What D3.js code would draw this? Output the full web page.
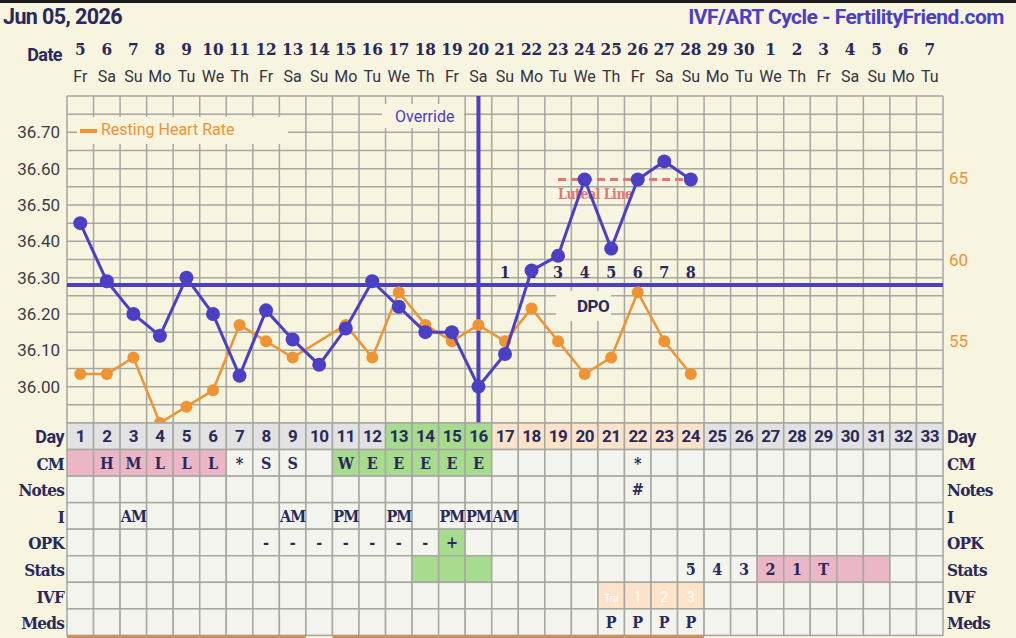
<!DOCTYPE html>
<html>
<head>
<meta charset="utf-8">
<script src="https://cdn.jsdelivr.net/npm/d3@7"></script>
<style>
  body { margin: 0; background: #f7f4df; }
  svg { display: block; }
  .slab { font-family: "DejaVu Serif", serif; font-stretch: condensed; font-weight: bold; }
  .sans { font-family: Roboto, "Noto Sans", sans-serif; }
</style>
</head>
<body>
<svg id="svg-chart"></svg>
<script>
var width = 1016,
    height = 638;

// ---- data ----
var dates = [5,6,7,8,9,10,11,12,13,14,15,16,17,18,19,20,21,22,23,24,25,26,27,28,29,30,1,2,3,4,5,6,7];
var weekdays = ["Fr","Sa","Su","Mo","Tu","We","Th","Fr","Sa","Su","Mo","Tu","We","Th","Fr","Sa","Su","Mo","Tu","We","Th","Fr","Sa","Su","Mo","Tu","We","Th","Fr","Sa","Su","Mo","Tu"];
var temps = [36.45,36.29,36.20,36.14,36.30,36.20,36.03,36.21,36.13,36.06,36.16,36.29,36.22,36.15,36.15,36.00,36.09,36.32,36.36,36.57,36.38,36.57,36.62,36.57];
var restingHR = [53,53,54,50,51,52,56,55,54,null,56,54,58,56,55,56,55,57,55,53,54,58,55,53];
var tempTicks = [36.00,36.10,36.20,36.30,36.40,36.50,36.60,36.70];
var hrTicks = [55,60,65];
var coverline = 36.28;
var ovulationDay = 16;
var lutealLevel = 36.57;
var dpoDays = [17,18,19,20,21,22,23,24];

var rowLabels = ["Day","CM","Notes","I","OPK","Stats","IVF","Meds"];
var cmRow = ["","H","M","L","L","L","*","S","S","","W","E","E","E","E","E","","","","","","*"];
var notesRow = ["","","","","","","","","","","","","","","","","","","","","","#"];
var intercourseRow = ["","","AM","","","","","","AM","","PM","","PM","","PM","PM","AM"];
var opkRow = ["","","","","","","","-","-","-","-","-","-","-","+"];
var statsRow = ["","","","","","","","","","","","","","","","","","","","","","","","5","4","3","2","1","T"];
var ivfRow = ["","","","","","","","","","","","","","","","","","","","","Tra","1","2","3"];
var medsRow = ["","","","","","","","","","","","","","","","","","","","","P","P","P","P"];

// phase colours per cell
var dayPhase = function(d) { return d >= 13 && d <= 16 ? "green" : (d >= 17 && d <= 24 ? "peach" : "gray"); };
var cmPhase = function(d) { return d <= 6 ? "pink" : (d >= 11 && d <= 16 ? "green" : "none"); };
var opkPhase = function(d) { return d == 15 ? "green" : "none"; };
var statsPhase = function(d) { return d >= 14 && d <= 16 ? "green" : (d >= 27 && d <= 31 ? "pink" : "none"); };
var ivfPhase = function(d) { return d >= 21 && d <= 24 ? "peach" : "none"; };

var colors = {
  bg: "#f7f4df", cell: "#f4f4ee", grid: "#a7a7a2", navy: "#29295c",
  blue: "#4b3fc4", orange: "#ef9333", salmon: "#e57676",
  gray: "#e2e2e2", green: "#a7dc8e", peach: "#fde3ca", pink: "#ebb7c7", none: "#f4f4ee"
};

// ---- layout ----
var nDays = 33,
    left = 67, right = 943,
    plotTop = 96, plotBottom = 423,
    rowH = 26.55;

var x = d3.scaleLinear().domain([0.5, nDays + 0.5]).range([left, right]);
var yT = d3.scaleLinear().domain([35.9, 36.8]).range([plotBottom, plotTop]);
var yH = d3.scaleLinear().domain([50, 70]).range([plotBottom, plotTop]);
var colW = x(2) - x(1);
var days = d3.range(1, nDays + 1);

var svg = d3.select('#svg-chart').attr('width', width).attr('height', height);

svg.append('rect').attr('width', width).attr('height', height).attr('fill', colors.bg);
svg.append('rect').attr('width', width).attr('height', 3).attr('fill', '#1b1b1b');

// header
svg.append('text').attr('class', 'sans').attr('x', 3).attr('y', 24)
  .attr('font-size', 21.5).attr('font-weight', 'bold').attr('fill', colors.navy)
  .attr('letter-spacing', -0.6).text('Jun 05, 2026');
svg.append('text').attr('class', 'sans').attr('x', 1004).attr('y', 24)
  .attr('text-anchor', 'end').attr('font-size', 21).attr('font-weight', 'bold')
  .attr('fill', colors.blue).attr('letter-spacing', -0.5).text('IVF/ART Cycle - FertilityFriend.com');

svg.append('text').attr('class', 'sans').attr('x', 62).attr('y', 61)
  .attr('text-anchor', 'end').attr('font-size', 18).attr('font-weight', 'bold')
  .attr('fill', colors.navy).attr('letter-spacing', -0.6).text('Date');
svg.append('g').selectAll('text').data(dates).enter().append('text')
  .attr('class', 'slab').attr('x', (d, i) => x(i + 1)).attr('y', 55)
  .attr('text-anchor', 'middle').attr('font-size', 17).attr('fill', colors.navy)
  .text(d => d);
svg.append('g').selectAll('text').data(weekdays).enter().append('text')
  .attr('class', 'sans').attr('x', (d, i) => x(i + 1)).attr('y', 82)
  .attr('text-anchor', 'middle').attr('font-size', 16).attr('fill', '#333344')
  .text(d => d);

// grid
var grid = svg.append('g');
grid.selectAll('.h').data(d3.range(0, 19)).enter().append('line')
  .attr('x1', left).attr('x2', right)
  .attr('y1', k => yT(35.9 + k * 0.05)).attr('y2', k => yT(35.9 + k * 0.05))
  .attr('stroke', colors.grid).attr('stroke-width', 1.5);
grid.selectAll('.v').data(d3.range(0, nDays + 1)).enter().append('line')
  .attr('x1', k => x(k + 0.5)).attr('x2', k => x(k + 0.5))
  .attr('y1', plotTop).attr('y2', plotBottom)
  .attr('stroke', colors.grid).attr('stroke-width', 1.5);

// axis labels
svg.append('g').selectAll('text').data(tempTicks).enter().append('text')
  .attr('class', 'sans').attr('x', 60).attr('y', d => yT(d) + 6)
  .attr('text-anchor', 'end').attr('font-size', 17).attr('fill', '#3c3c48')
  .text(d => d.toFixed(2));
svg.append('g').selectAll('text').data(hrTicks).enter().append('text')
  .attr('class', 'sans').attr('x', 949).attr('y', d => yH(d) + 6)
  .attr('font-size', 17).attr('fill', colors.orange)
  .text(d => d);

// legend + override boxes
svg.append('rect').attr('x', 77).attr('y', 117).attr('width', 211).attr('height', 27).attr('fill', colors.bg);
svg.append('rect').attr('x', 80).attr('y', 129).attr('width', 17).attr('height', 4).attr('fill', colors.orange);
svg.append('text').attr('class', 'sans').attr('x', 101).attr('y', 135)
  .attr('font-size', 16).attr('fill', colors.orange).text('Resting Heart Rate');
svg.append('rect').attr('x', 382).attr('y', 104).attr('width', 82).attr('height', 24).attr('fill', colors.bg);
svg.append('text').attr('class', 'sans').attr('x', 395).attr('y', 122)
  .attr('font-size', 16).attr('fill', colors.blue).text('Override');

// DPO box
svg.append('rect').attr('x', 556).attr('y', 291).attr('width', 55).attr('height', 30).attr('fill', colors.bg);
svg.append('text').attr('class', 'sans').attr('x', 593).attr('y', 312)
  .attr('text-anchor', 'middle').attr('font-size', 17).attr('font-weight', 'bold')
  .attr('fill', colors.navy).attr('letter-spacing', -0.5).text('DPO');

// coverline + ovulation line
svg.append('line').attr('x1', left).attr('x2', right)
  .attr('y1', yT(coverline)).attr('y2', yT(coverline))
  .attr('stroke', colors.blue).attr('stroke-width', 4);
svg.append('line').attr('x1', x(ovulationDay)).attr('x2', x(ovulationDay))
  .attr('y1', plotTop).attr('y2', plotBottom)
  .attr('stroke', colors.blue).attr('stroke-width', 4);

// luteal line
svg.append('line').attr('x1', x(19)).attr('x2', x(24.2))
  .attr('y1', yT(lutealLevel)).attr('y2', yT(lutealLevel))
  .attr('stroke', colors.salmon).attr('stroke-width', 3).attr('stroke-dasharray', '8,5');
svg.append('text').attr('class', 'slab').attr('x', x(19)).attr('y', yT(lutealLevel) + 19)
  .attr('font-size', 14).attr('fill', colors.salmon).attr('letter-spacing', -0.5).text('Luteal Line');

// DPO numbers
svg.append('g').selectAll('text').data(dpoDays).enter().append('text')
  .attr('class', 'slab').attr('x', d => x(d)).attr('y', 278)
  .attr('text-anchor', 'middle').attr('font-size', 16).attr('fill', colors.navy)
  .text((d, i) => i + 1);

// resting heart rate
var hrPts = restingHR.map((v, i) => ({ day: i + 1, v: v })).filter(p => p.v != null);
svg.append('path').datum(hrPts)
  .attr('d', d3.line().x(p => x(p.day)).y(p => yH(p.v)))
  .attr('fill', 'none').attr('stroke', colors.orange).attr('stroke-width', 2.5);
svg.append('g').selectAll('circle').data(hrPts).enter().append('circle')
  .attr('cx', p => x(p.day)).attr('cy', p => yH(p.v)).attr('r', 6)
  .attr('fill', colors.orange);

// temperatures
var tPts = temps.map((v, i) => ({ day: i + 1, v: v }));
svg.append('path').datum(tPts)
  .attr('d', d3.line().x(p => x(p.day)).y(p => yT(p.v)))
  .attr('fill', 'none').attr('stroke', colors.blue).attr('stroke-width', 3);
svg.append('g').selectAll('circle').data(tPts).enter().append('circle')
  .attr('cx', p => x(p.day)).attr('cy', p => yT(p.v)).attr('r', 7)
  .attr('fill', colors.blue);

// ---- table ----
var rows = [
  { values: days.map(String), phase: dayPhase, font: 'sans' },
  { values: cmRow, phase: cmPhase, font: 'slab' },
  { values: notesRow, phase: () => "none", font: 'slab' },
  { values: intercourseRow, phase: () => "none", font: 'slab' },
  { values: opkRow, phase: opkPhase, font: 'slab' },
  { values: statsRow, phase: statsPhase, font: 'slab' },
  { values: ivfRow, phase: ivfPhase, font: 'sans', light: true },
  { values: medsRow, phase: () => "none", font: 'slab' }
];

var table = svg.append('g');
rows.forEach((row, r) => {
  var y0 = plotBottom + r * rowH;
  var g = table.append('g');
  g.selectAll('rect').data(days).enter().append('rect')
    .attr('x', d => x(d - 0.5)).attr('y', y0).attr('width', colW).attr('height', rowH)
    .attr('fill', d => colors[row.phase(d)])
    .attr('stroke', colors.grid).attr('stroke-width', 1.5);
  g.selectAll('text').data(days).enter().append('text')
    .attr('class', row.font)
    .attr('x', d => x(d)).attr('y', y0 + rowH / 2 + 6)
    .attr('text-anchor', 'middle')
    .attr('font-size', d => row.light ? ((row.values[d - 1] || "").length > 1 ? 10 : 14) : (r == 0 ? 17 : 16))
    .attr('font-weight', r == 0 ? 'bold' : null)
    .attr('fill', row.light ? '#ffffff' : colors.navy)
    .attr('letter-spacing', r == 0 ? -0.5 : (r == 3 ? -1 : 0))
    .text(d => row.values[d - 1] || "");
  [[64, 'end'], [947, 'start']].forEach(s => {
    g.append('text').attr('class', r == 0 ? 'sans' : 'slab')
      .attr('x', s[0]).attr('y', y0 + rowH / 2 + 7)
      .attr('text-anchor', s[1]).attr('font-size', r == 0 ? 18 : 17)
      .attr('font-weight', 'bold').attr('fill', colors.navy)
      .attr('letter-spacing', r == 0 ? -0.5 : -0.8)
      .text(rowLabels[r]);
  });
});

// partially visible next row
var yLast = plotBottom + rows.length * rowH;
table.append('g').selectAll('rect').data(days.filter(d => d <= 24 && d != 10)).enter().append('rect')
  .attr('x', d => x(d - 0.5)).attr('y', yLast).attr('width', colW).attr('height', 6)
  .attr('fill', '#d98c4a');
</script>
</body>
</html>
